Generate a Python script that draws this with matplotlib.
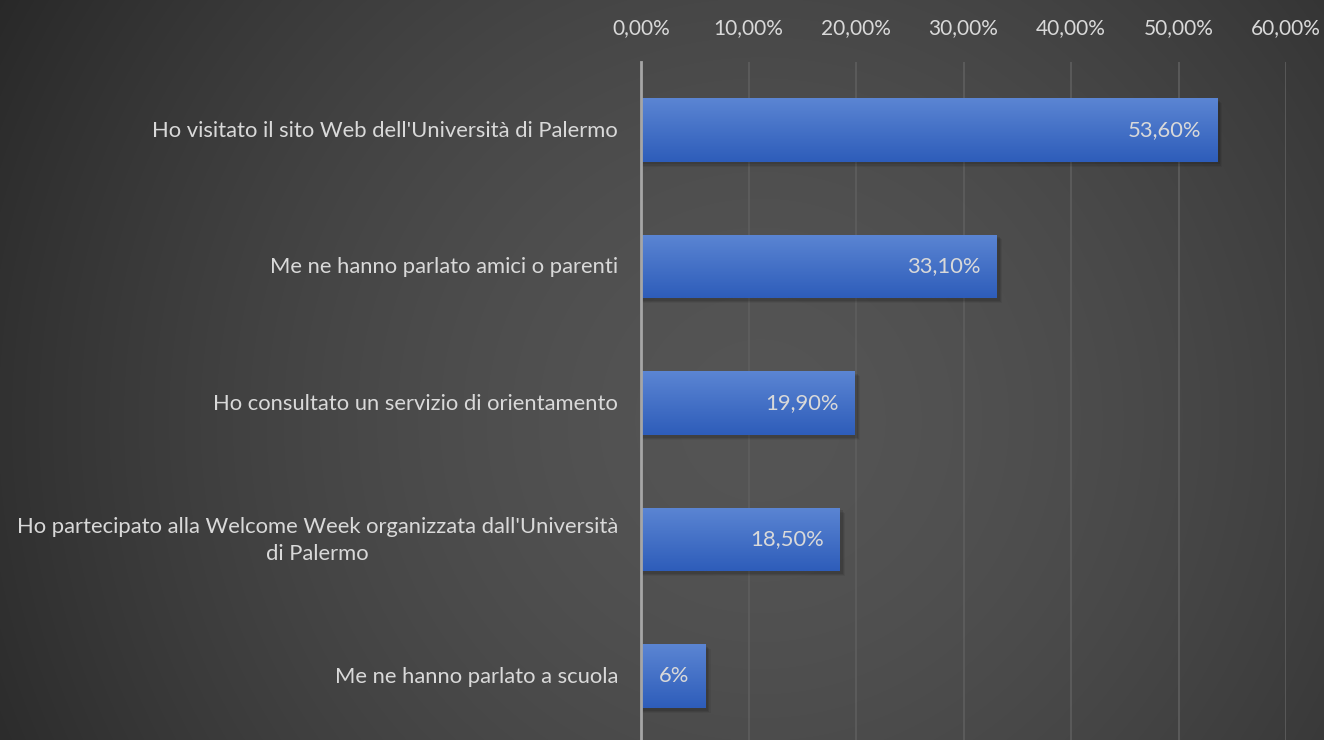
import numpy as np
import matplotlib
matplotlib.use("Agg")
import matplotlib.pyplot as plt
from matplotlib.ticker import FuncFormatter, MultipleLocator
from matplotlib.transforms import blended_transform_factory

categories = [
    "Ho visitato il sito Web dell'Università di Palermo",
    "Me ne hanno parlato amici o parenti",
    "Ho consultato un servizio di orientamento",
    "Ho partecipato alla Welcome Week organizzata dall'Università\ndi Palermo",
    "Me ne hanno parlato a scuola",
]
values = [0.536, 0.331, 0.199, 0.185, 0.06]
value_labels = ["53,60%", "33,10%", "19,90%", "18,50%", "6%"]

W, H = 1324, 740
fig = plt.figure(figsize=(W / 100, H / 100), dpi=100)
FONT = "Lato"
TXT = "#d9d9d9"

# radial gradient background
bg = fig.add_axes([0, 0, 1, 1], zorder=0)
yy, xx = np.mgrid[0:H, 0:W]
cx, cy = 760, 420
r = np.sqrt((xx - cx) ** 2 + (yy - cy) ** 2) / 900.0
r = np.clip(r, 0, 1)
lo = np.array([0x55, 0x55, 0x55]) / 255
hi = np.array([0x26, 0x26, 0x26]) / 255
img = lo[None, None, :] * (1 - r[..., None] ** 1.6) + hi[None, None, :] * (r[..., None] ** 1.6)
bg.imshow(img, extent=[0, W, H, 0], aspect="auto")
bg.set_axis_off()

left = 641 / W
right = 1286 / W
top = 1 - 61.5 / H
ax = fig.add_axes([left, 0, right - left, top], zorder=1)
ax.patch.set_alpha(0)

n = len(categories)
ypos = np.arange(n)
bar_h = 0.467
ax.set_xlim(0, 0.6)
ax.set_ylim(4.5 - 4.5 / 137 * 1.0, -0.5)

# shadows
for y, v in zip(ypos, values):
    for k, a in enumerate([0.10, 0.08, 0.06]):
        off = 0.0025 + k * 0.0012
        ax.barh(y + 0.02 + k * 0.008, v + off, height=bar_h, left=0, color="black",
                alpha=a, zorder=2, linewidth=0)

# gradient bars
grad = np.linspace(0, 1, 64)[:, None]
c_top = np.array([0x5b, 0x85, 0xd3]) / 255
c_bot = np.array([0x2e, 0x5d, 0xba]) / 255
gimg = c_top[None, None, :] * (1 - grad[..., None]) + c_bot[None, None, :] * grad[..., None]
gimg = np.repeat(gimg, 2, axis=1)
for y, v in zip(ypos, values):
    bars = ax.barh(y, v, height=bar_h, color="none", linewidth=0, zorder=3)
    b = bars[0]
    im = ax.imshow(gimg, extent=[0, v, y + bar_h / 2, y - bar_h / 2], aspect="auto", zorder=3)
    im.set_clip_path(b)

for y, v, lab in zip(ypos, values, value_labels):
    ax.annotate(lab, xy=(v, y), xytext=(-16, 0), textcoords="offset pixels",
                ha="right", va="center", color=TXT, fontsize=15.8, family=FONT, zorder=5)

# category labels
ax.set_yticks(ypos)
ax.set_yticklabels([])
ax.tick_params(axis="y", length=0)
trans = blended_transform_factory(ax.transAxes, ax.transData)
for y, cat in zip(ypos, categories):
    ax.annotate(cat, xy=(0, y), xycoords=trans, xytext=(-23, -1), textcoords="offset pixels",
                ha="right", va="center", multialignment="center", linespacing=1.45,
                color=TXT, fontsize=15.8, family=FONT, annotation_clip=False)

ax.xaxis.tick_top()
ax.xaxis.set_major_locator(MultipleLocator(0.1))
ax.xaxis.set_major_formatter(FuncFormatter(lambda x, p: f"{x*100:.2f}%".replace(".", ",")))
ax.tick_params(axis="x", length=0, pad=17, colors=TXT, labelsize=15)
for t in ax.get_xticklabels():
    t.set_family(FONT)

ax.grid(axis="x", color="#5e5e5e", linewidth=1.2, zorder=1)
ax.set_axisbelow(True)
for s in ["top", "right", "bottom"]:
    ax.spines[s].set_visible(False)
ax.spines["left"].set_color("#a6a6a6")
ax.spines["left"].set_linewidth(2)
ax.spines["left"].set_zorder(6)

fig.savefig("out.png", dpi=100)
